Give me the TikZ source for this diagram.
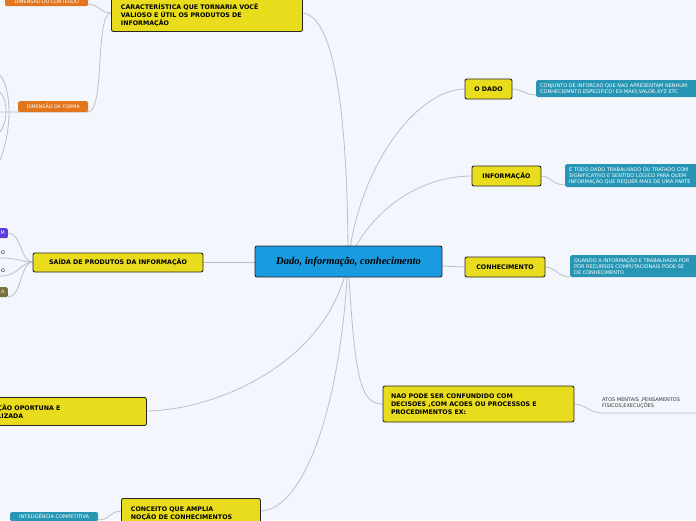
\documentclass[tikz,border=0pt]{standalone}
\usepackage{fontspec}
\setmainfont{DejaVu Sans}
\newfontfamily\serifit{Liberation Serif}
\definecolor{bgc}{RGB}{244,246,254}
\definecolor{yel}{RGB}{232,220,28}
\definecolor{teal}{RGB}{38,150,180}
\definecolor{ora}{RGB}{226,118,30}
\definecolor{lin}{RGB}{190,190,195}
\definecolor{blu}{RGB}{26,155,224}
\definecolor{pur}{RGB}{90,60,220}
\definecolor{oli}{RGB}{120,115,60}
\begin{document}
\begin{tikzpicture}[x=1pt,y=-1pt,
 ybox/.style={draw=black!85,line width=0.9pt,fill=yel,rounded corners=2pt,font=\bfseries\fontsize{6.3}{8}\selectfont,align=left,inner sep=0pt,anchor=north west},
 tbox/.style={fill=teal,text=white,rounded corners=1.5pt,font=\fontsize{5}{5.6}\selectfont,align=left,inner sep=0pt,anchor=north west},
 obox/.style={fill=ora,text=white,rounded corners=1.5pt,font=\fontsize{4.8}{5.2}\selectfont,inner sep=0pt,anchor=north west},
 con/.style={draw=lin,line width=0.8pt}]
\fill[bgc] (0,0) rectangle (696,520);
\useasboundingbox (0,0) rectangle (696,520);
% connectors
\coordinate (c) at (348,262);
\draw[con] (c) .. controls (348,150) and (340,15) .. (302,13);
\draw[con] (c) .. controls (360,160) and (420,89) .. (465,89);
\draw[con] (c) .. controls (370,210) and (420,176) .. (472,176);
\draw[con] (c) -- (465,267);
\draw[con] (c) .. controls (355,380) and (360,404) .. (383,404);
\draw[con] (c) -- (203,262);
\draw[con] (c) .. controls (330,360) and (220,410) .. (146,411);
\draw[con] (c) .. controls (340,420) and (300,511) .. (260,511);
\draw[con] (512,89) .. controls (522,89) and (525,95) .. (536,95);
\draw[con] (541,176) .. controls (550,176) and (553,185) .. (565,185);
\draw[con] (545,267) .. controls (555,267) and (558,277) .. (570,277);
\draw[con] (574,404) .. controls (585,404) and (590,413) .. (602,413) -- (696,413);
\draw[con] (111,13) .. controls (100,13) and (100,5) .. (88,4);
\draw[con] (111,13) .. controls (95,13) and (105,112) .. (88,112) -- (0,112);
\draw[con] (33,262) .. controls (20,262) and (22,233) .. (8,233);
\draw[con] (33,262) .. controls (20,262) and (20,258) .. (0,258);
\draw[con] (33,262) .. controls (20,262) and (20,276) .. (0,276);
\draw[con] (33,262) .. controls (20,262) and (22,297) .. (8,297);
\draw[con] (121,511) .. controls (110,511) and (110,520) .. (98,520);
\draw[con] (0,75) .. controls (12,90) and (12,130) .. (0,160);
\draw[con] (0,92) .. controls (8,100) and (8,122) .. (0,132);
% nodes
\node[fill=blu,draw=black!85,line width=0.9pt,rounded corners=2pt,minimum width=187pt,minimum height=31pt,inner sep=0pt,font=\serifit\bfseries\itshape\fontsize{10.5}{12}\selectfont] (centre) at (348.5,261.5) {Dado, informação, conhecimento};
\node[ybox,minimum width=191pt,minimum height=36pt] (carac) at (111,-5) {\hspace*{8pt}\parbox{180pt}{\vspace*{4pt}CARACTERÍSTICA QUE TORNARIA VOCÊ\\VALIOSO E ÚTIL OS PRODUTOS DE\\INFORMAÇÃO}};
\node[ybox,minimum width=47pt,minimum height=20pt,align=center,anchor=center] (dado) at (488.5,89) {O DADO};
\node[ybox,minimum width=69pt,minimum height=20pt,align=center,anchor=center] (info) at (506.5,176) {INFORMAÇÃO};
\node[ybox,minimum width=80pt,minimum height=20pt,align=center,anchor=center] (conh) at (505,267) {CONHECIMENTO};
\node[ybox,minimum width=191pt,minimum height=36pt,anchor=center] (nao) at (478.5,404) {\parbox{175pt}{NAO PODE SER CONFUNDIDO COM\\DECISOES ,COM ACOES OU PROCESSOS E\\PROCEDIMENTOS EX:}};
\node[ybox,minimum width=170pt,minimum height=19pt,align=center,anchor=center] (saida) at (118,262.5) {SAÍDA DE PRODUTOS DA INFORMAÇÃO};
\node[ybox,minimum width=156pt,minimum height=28pt] (oport) at (-10,397) {\parbox{150pt}{\hspace*{4pt}ÇÃO OPORTUNA E\\\hspace*{4pt}LIZADA}};
\node[ybox,minimum width=139pt,minimum height=30pt] (conc) at (121,498) {\hspace*{8pt}\parbox{128pt}{\vspace*{1pt}CONCEITO QUE AMPLIA\\NOÇÃO DE CONHECIMENTOS}};
\node[tbox,minimum width=170pt,minimum height=17pt] (t1) at (536,80) {\hspace*{4pt}\parbox{170pt}{CONJUNTO DE INFORCAO QUE NAO APRESENTAM NENHUM\\CONHECIEMNTO ESPECIFICO! EX:MAIO,VALOR,XYZ ETC}};
\node[tbox,minimum width=140pt,minimum height=23pt] (t2) at (565,164) {\hspace*{4pt}\parbox{170pt}{É TODO DADO TRABALHADO OU TRATADO COM\\SIGNIFICATIVO E SENTIDO LÓGICO PARA QUEM\\INFORMAÇÃO QUE REQUER MAIS DE UMA PARTE}};
\node[tbox,minimum width=140pt,minimum height=22pt] (t3) at (570,255) {\hspace*{4pt}\parbox{170pt}{QUANDO A INFORMAÇÃO E TRABALHADA POR\\POR RECURSOS COMPUTACIONAIS PODE-SE\\DE CONHECIMENTO}};
\node[tbox,minimum width=88pt,minimum height=9pt,align=center] (intel) at (10,512) {INTELIGÊNCIA COMPETITIVA};
\node[obox,minimum width=83pt,minimum height=10pt] (dconteudo) at (5,-4) {DIMENSÃO DO CONTEÚDO};
\node[obox,minimum width=70pt,minimum height=11pt] (dforma) at (18,101) {DIMENSÃO DA FORMA};
\node[fill=pur,text=white,rounded corners=1.5pt,minimum width=13pt,minimum height=10pt,inner sep=0pt,font=\fontsize{4.8}{5}\selectfont,anchor=north east] (m) at (8,228) {\hspace*{3pt}M};
\node[font=\fontsize{4.8}{5}\selectfont,anchor=east,inner sep=0pt] (o1) at (5,253) {O};
\node[font=\fontsize{4.8}{5}\selectfont,anchor=east,inner sep=0pt] (o2) at (5,271) {O};
\node[fill=oli,text=white,rounded corners=1.5pt,minimum width=13pt,minimum height=10pt,inner sep=0pt,font=\fontsize{4.8}{5}\selectfont,anchor=north east] (a) at (8,287) {\hspace*{3pt}A};
\node[font=\fontsize{5}{5.6}\selectfont,align=left,anchor=north west,inner sep=0pt,text=black!80] (atos) at (602,398) {ATOS MENTAIS ,PENSAMENTOS\\FÍSICOS,EXECUÇÕES};
\end{tikzpicture}
\end{document}
